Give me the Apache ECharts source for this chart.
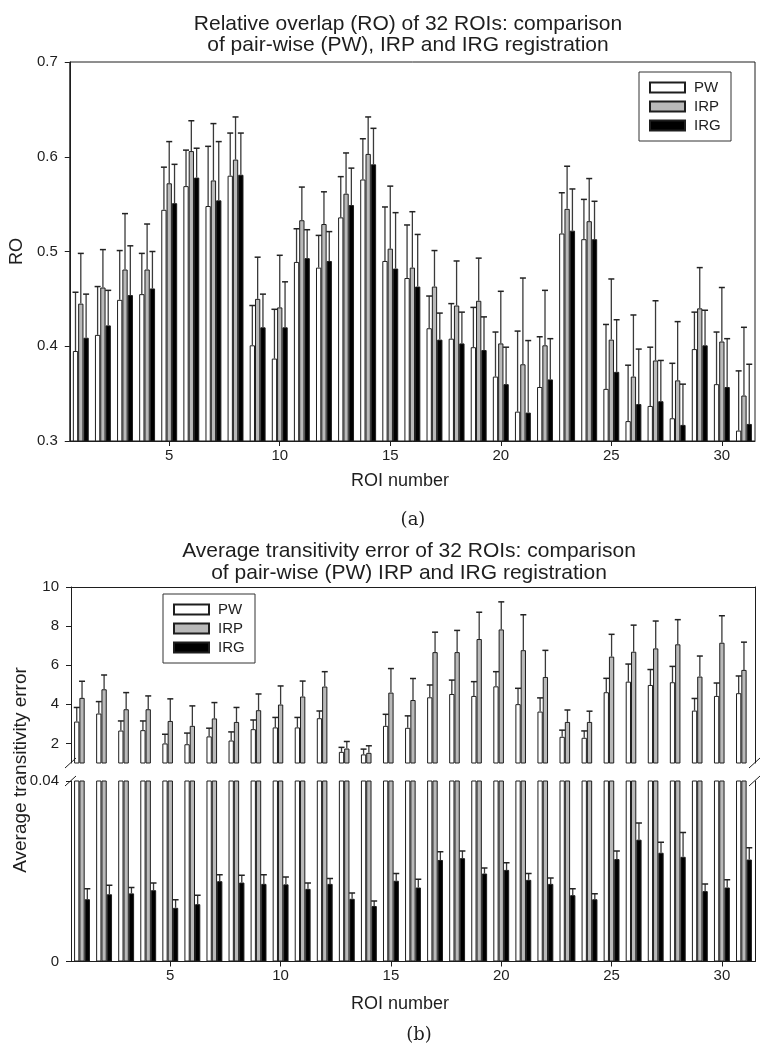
<!DOCTYPE html>
<html><head><meta charset="utf-8">
<script src="https://cdn.jsdelivr.net/npm/echarts@6/dist/echarts.min.js"></script>
<style>html,body{margin:0;padding:0;background:#fff}#c{width:775px;height:1050px}</style>
</head><body><div id="c"></div>
<script>
// ---------- data ----------
const roi = ['1','2','3','4','5','6','7','8','9','10','11','12','13','14','15','16','17','18','19','20','21','22','23','24','25','26','27','28','29','30','31'];
const xTickLabels = ['5','10','15','20','25','30'];

// (a) relative overlap, mean and SD
const roPW  = [0.395,0.412,0.449,0.455,0.544,0.569,0.548,0.580,0.401,0.387,0.489,0.483,0.536,0.576,0.490,0.472,0.419,0.408,0.399,0.368,0.331,0.357,0.519,0.513,0.355,0.321,0.337,0.324,0.397,0.360,0.311];
const roPWsd = [0.062,0.051,0.052,0.043,0.045,0.038,0.063,0.045,0.042,0.052,0.035,0.034,0.043,0.043,0.057,0.056,0.034,0.037,0.042,0.047,0.085,0.053,0.043,0.042,0.068,0.059,0.062,0.058,0.039,0.055,0.063];
const roIRP = [0.445,0.462,0.481,0.481,0.572,0.606,0.575,0.597,0.450,0.441,0.533,0.529,0.561,0.603,0.503,0.483,0.463,0.443,0.448,0.403,0.381,0.401,0.545,0.532,0.407,0.368,0.385,0.364,0.440,0.405,0.348];
const roIRPsd = [0.053,0.040,0.059,0.048,0.044,0.032,0.060,0.045,0.044,0.055,0.035,0.034,0.043,0.039,0.066,0.059,0.038,0.047,0.045,0.055,0.091,0.058,0.045,0.045,0.064,0.065,0.063,0.062,0.043,0.057,0.072];
const roIRG = [0.409,0.422,0.454,0.461,0.551,0.578,0.554,0.581,0.420,0.420,0.493,0.490,0.549,0.592,0.482,0.463,0.407,0.403,0.396,0.360,0.330,0.365,0.522,0.513,0.373,0.339,0.342,0.317,0.401,0.357,0.318];
const roIRGsd = [0.046,0.037,0.052,0.039,0.041,0.031,0.062,0.044,0.035,0.048,0.030,0.031,0.039,0.038,0.059,0.055,0.028,0.033,0.035,0.039,0.076,0.043,0.044,0.040,0.055,0.058,0.043,0.043,0.037,0.051,0.063];

// (b) average transitivity error, mean and SD
const tePW  = [3.12,3.53,2.66,2.68,2.00,1.96,2.36,2.15,2.73,2.82,2.82,3.29,1.57,1.44,2.90,2.80,4.36,4.53,4.43,4.92,4.01,3.63,2.34,2.29,4.62,5.16,4.99,5.13,3.68,4.43,4.57];
const tePWsd = [0.72,0.61,0.49,0.47,0.47,0.57,0.42,0.44,0.47,0.51,0.51,0.37,0.23,0.27,0.59,0.61,0.63,0.71,0.73,0.75,0.81,0.70,0.34,0.35,0.71,0.90,0.79,0.81,0.62,0.66,0.88];
const teIRP = [4.33,4.77,3.75,3.75,3.15,2.90,3.28,3.10,3.70,3.99,4.40,4.91,1.74,1.52,4.60,4.22,6.67,6.67,7.34,7.83,6.77,5.40,3.10,3.10,6.44,6.69,6.86,7.07,5.42,7.15,5.76];
const teIRPsd = [0.85,0.73,0.85,0.68,1.13,1.02,0.81,0.74,0.83,0.95,0.79,0.76,0.36,0.36,1.23,1.10,1.02,1.11,1.37,1.41,1.81,1.36,0.61,0.55,1.14,1.36,1.40,1.26,1.05,1.38,1.42];
const teIRG = [0.0138,0.0149,0.0151,0.0158,0.0119,0.0127,0.0178,0.0175,0.0172,0.0171,0.0161,0.0172,0.0139,0.0123,0.0179,0.0164,0.0225,0.0229,0.0195,0.0203,0.0181,0.0172,0.0147,0.0138,0.0227,0.0270,0.0241,0.0232,0.0156,0.0164,0.0226];
const teIRGsd = [0.0023,0.0020,0.0013,0.0016,0.0018,0.0020,0.0014,0.0016,0.0020,0.0016,0.0013,0.0012,0.0013,0.0011,0.0016,0.0018,0.0018,0.0016,0.0012,0.0016,0.0014,0.0013,0.0014,0.0012,0.0018,0.0037,0.0023,0.0054,0.0016,0.0017,0.0026];

const upperTicks = [2,4,6,8,10];
const lowerTicks = [0,0.04];

// ---------- style ----------
const FONT = 'Liberation Sans, Arial, sans-serif';
const INK = '#1e1e1e';
const BAR_W = 0.24;
const fills = {PW:'#ffffff', IRP:'#b9b9b9', IRG:'#000000'};

const chart = echarts.init(document.getElementById('c'), null, {renderer:'canvas'});

const everyFifth = (i) => (i + 1) % 5 === 0;

function catAxis(gridIndex, opts) {
  return Object.assign({
    type:'category', gridIndex, data: roi, boundaryGap: true,
    axisLine:{show:true, lineStyle:{color:INK, width:1}},
    axisTick:{show:true, interval: everyFifth, alignWithLabel:true, length:5, lineStyle:{color:INK}},
    axisLabel:{show:true, interval: everyFifth, margin:7, fontSize:15, color:INK, fontFamily:FONT,
      formatter: v => xTickLabels.indexOf(v) >= 0 ? v : ''},
    splitLine:{show:false}
  }, opts || {});
}
function lineOnlyAxis(kind, gridIndex, extra) {
  return Object.assign({
    type: kind === 'x' ? 'category' : 'value', gridIndex,
    data: kind === 'x' ? roi : undefined,
    axisLine:{show:true, onZero:false, lineStyle:{color:INK, width:1}},
    axisTick:{show:false}, axisLabel:{show:false}, splitLine:{show:false}
  }, extra || {});
}

function barSeries(name, xi, yi, data) {
  return {
    type:'bar', name, xAxisIndex:xi, yAxisIndex:yi, data,
    barWidth: (BAR_W*100) + '%', barGap:'0%', clip:true,
    itemStyle:{color:fills[name], borderColor:INK, borderWidth:1},
    emphasis:{disabled:true}, animation:false, z:2
  };
}
function errSeries(xi, yi, vals, sds, k) {
  return {
    type:'custom', xAxisIndex:xi, yAxisIndex:yi, clip:true, z:3, animation:false, silent:true,
    data: vals.map((v, i) => [i, v, v + sds[i]]),
    renderItem(params, api) {
      const idx = api.value(0);
      const p0 = api.coord([idx, api.value(1)]);
      const p1 = api.coord([idx, api.value(2)]);
      const bw = api.size([1, 0])[0] * BAR_W;
      const x = p0[0] + k * bw;
      const cap = 3;
      return {type:'group', children:[
        {type:'line', shape:{x1:x, y1:p0[1], x2:x, y2:p1[1]}, style:{stroke:'#3a3a3a', lineWidth:1.3}},
        {type:'line', shape:{x1:x-cap, y1:p1[1], x2:x+cap, y2:p1[1]}, style:{stroke:'#222', lineWidth:1.5}}
      ]};
    }
  };
}

// grid geometry
const gA  = {left:62, top:62, width:693, height:379};
const gBu = {left:71, top:587, width:684, height:176};
const gBl = {left:71, top:781, width:684, height:180.5};

function slash(x, y) {
  return {type:'line', shape:{x1:x-6, y1:y+5, x2:x+5, y2:y-5}, style:{stroke:INK, lineWidth:1}, z:10};
}
const breakUpper = gBu.top + gBu.height, breakLower = gBl.top;
const leftX = gBu.left, rightX = gBu.left + gBu.width;

const titleStyle = {fontSize:21, fontWeight:'normal', color:INK, fontFamily:FONT, lineHeight:21};
const labelStyle = {fontSize:18, fontWeight:'normal', color:INK, fontFamily:FONT};
const capStyle = {fontSize:18, fontWeight:'normal', color:INK, fontFamily:'DejaVu Serif, Liberation Serif, serif'};
const legendBase = {
  orient:'vertical', icon:'rect', itemWidth:35, itemHeight:10, itemGap:2,
  padding:[7,8,7,10], borderColor:'#333', borderWidth:1, backgroundColor:'#fff',
  selectedMode:false, data:['PW','IRP','IRG'],
  textStyle:{fontSize:15, color:INK, fontFamily:FONT, lineHeight:17, padding:[0,0,0,4], width:29}
};

const option = {
  backgroundColor:'#fff',
  animation:false,
  title:[
    {text:'Relative overlap (RO) of 32 ROIs: comparison\nof pair-wise (PW), IRP and IRG registration',
     left:403, top:9, textAlign:'center', textStyle:titleStyle},
    {text:'Average transitivity error of 32 ROIs: comparison\nof pair-wise (PW) IRP and IRG registration',
     left:404, top:535, textAlign:'center', textStyle:Object.assign({}, titleStyle, {lineHeight:22})},
    {text:'ROI number', left:395, top:467, textAlign:'center', textStyle:labelStyle},
    {text:'ROI number', left:395, top:990, textAlign:'center', textStyle:labelStyle},
    {text:'(a)', left:408, top:506, textAlign:'center', textStyle:capStyle},
    {text:'(b)', left:414, top:1021, textAlign:'center', textStyle:capStyle}
  ],
  legend:[
    Object.assign({}, legendBase, {left:639, top:72}),
    Object.assign({}, legendBase, {left:163, top:594})
  ],
  grid:[
    Object.assign({show:true, borderColor:INK, borderWidth:1, containLabel:false}, gA),
    Object.assign({containLabel:false}, gBu),
    Object.assign({containLabel:false}, gBl)
  ],
  xAxis:[
    catAxis(0),
    catAxis(1, {axisLine:{show:false}, axisTick:{show:false}, axisLabel:{show:false}}),
    lineOnlyAxis('x', 1, {position:'top'}),
    catAxis(2)
  ],
  yAxis:[
    {type:'value', gridIndex:0, min:0.3, max:0.7, interval:0.1,
     name:'RO', nameLocation:'middle', nameGap:34, nameRotate:90,
     nameTextStyle:labelStyle,
     axisLine:{show:true, lineStyle:{color:INK}}, axisTick:{show:true, length:5, lineStyle:{color:INK}},
     axisLabel:{margin:12, fontSize:15, color:INK, fontFamily:FONT, formatter:v => v.toFixed(1)},
     splitLine:{show:false}},
    {type:'value', gridIndex:1, min:1, max:10, interval:1,
     axisLine:{show:true, onZero:false, lineStyle:{color:INK}},
     axisTick:{show:true, length:5, customValues:upperTicks, lineStyle:{color:INK}},
     axisLabel:{margin:12, fontSize:15, color:INK, fontFamily:FONT, customValues:upperTicks},
     splitLine:{show:false}},
    lineOnlyAxis('y', 1, {position:'right', min:1, max:10}),
    {type:'value', gridIndex:2, min:0, max:0.04, interval:0.04,
     axisLine:{show:true, onZero:false, lineStyle:{color:INK}},
     axisTick:{show:true, length:5, customValues:lowerTicks, lineStyle:{color:INK}},
     axisLabel:{margin:12, fontSize:15, color:INK, fontFamily:FONT, customValues:lowerTicks,
       formatter: v => v === 0 ? '0' : String(+v.toFixed(2))},
     splitLine:{show:false}},
    lineOnlyAxis('y', 2, {position:'right', min:0, max:0.04})
  ],
  graphic:[
    {type:'text', x:21, y:770, rotation:Math.PI/2,
     style:{text:'Average transitivity error', fontSize:19, fill:INK, fontFamily:FONT, textAlign:'center', textVerticalAlign:'middle'}},
    slash(leftX, breakUpper), slash(leftX, breakLower),
    slash(rightX, breakUpper), slash(rightX, breakLower)
  ],
  series:[
    barSeries('PW', 0, 0, roPW), barSeries('IRP', 0, 0, roIRP), barSeries('IRG', 0, 0, roIRG),
    errSeries(0, 0, roPW, roPWsd, -1), errSeries(0, 0, roIRP, roIRPsd, 0), errSeries(0, 0, roIRG, roIRGsd, 1),

    barSeries('PW', 1, 1, tePW), barSeries('IRP', 1, 1, teIRP), barSeries('IRG', 1, 1, teIRG),
    errSeries(1, 1, tePW, tePWsd, -1), errSeries(1, 1, teIRP, teIRPsd, 0),

    barSeries('PW', 3, 3, tePW), barSeries('IRP', 3, 3, teIRP), barSeries('IRG', 3, 3, teIRG),
    errSeries(3, 3, teIRG, teIRGsd, 1)
  ]
};
chart.setOption(option);
</script>
</body></html>
